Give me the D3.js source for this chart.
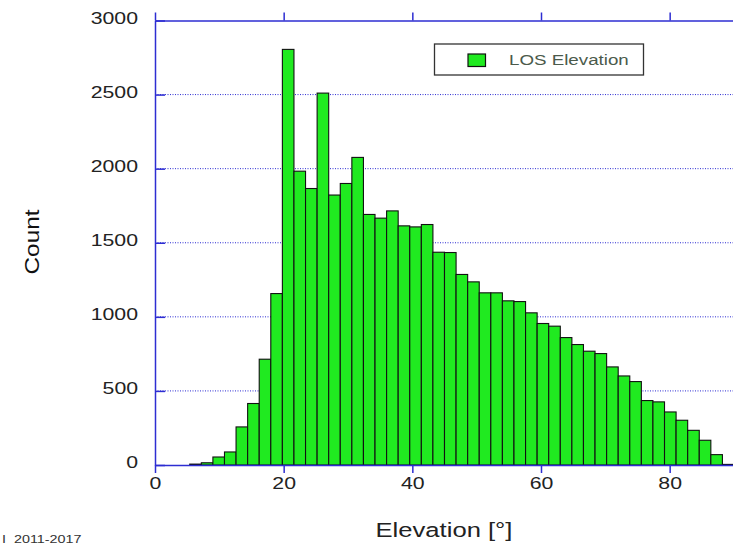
<!DOCTYPE html>
<html><head><meta charset="utf-8">
<script src="https://cdn.jsdelivr.net/npm/d3@7"></script>
<style>body{margin:0;background:#fff} svg{display:block}</style>
</head><body><svg id="c" width="733" height="546"></svg>
<script>
// ---- data ----
const binStart = [0,1.8,3.6,5.4,7.2,9,10.8,12.6,14.4,16.2,18,19.8,21.6,23.4,25.2,27,28.8,30.6,32.4,34.2,36,37.8,39.6,41.4,43.2,45,46.8,48.6,50.4,52.2,54,55.8,57.6,59.4,61.2,63,64.8,66.6,68.4,70.2,72,73.8,75.6,77.4,79.2,81,82.8,84.6,86.4,88.2];
const binWidth = 1.8;
const counts = [0,0,0,6,15,54,88,257,415,714,1157,2805,1983,1866,2510,1822,1900,2076,1691,1666,1715,1614,1607,1623,1436,1434,1286,1236,1162,1162,1108,1103,1027,955,937,860,813,768,752,662,601,563,435,426,358,302,234,167,70,4];
const xTicks = [0,20,40,60,80];
const yTicks = [0,500,1000,1500,2000,2500,3000];
const seriesName = "LOS Elevation";
const xTitle = "Elevation [°]";
const yTitle = "Count";
const footnote = "I  2011-2017";

// ---- chart ----
const svg = d3.select("#c");
const x = d3.scaleLinear().domain([0,90]).range([155,734]);
const y = d3.scaleLinear().domain([0,3000]).range([465,20.5]);
const axisColor = "#2d2dd2";
const font = "'Liberation Sans', Arial, Helvetica, sans-serif";
const SX = 1.25;
const barFill = "#20ea20";

// gridlines
svg.append("g").selectAll("line")
  .data(yTicks.filter(d => d > 0 && d < 3000)).join("line")
  .attr("x1", x.range()[0]).attr("x2", x.range()[1])
  .attr("y1", d => y(d)).attr("y2", d => y(d))
  .attr("stroke", axisColor).attr("stroke-width", 1)
  .attr("stroke-dasharray", "1,1.5");

// bars
svg.append("g").selectAll("rect")
  .data(binStart.map((b, i) => ({b, c: counts[i]})).filter(d => d.c > 0)).join("rect")
  .attr("x", d => x(d.b))
  .attr("width", d => x(d.b + binWidth) - x(d.b))
  .attr("y", d => y(d.c))
  .attr("height", d => y(0) - y(d.c))
  .attr("fill", barFill)
  .attr("stroke", "#111").attr("stroke-width", 1.1);

function styleAxis(g) {
  g.selectAll(".domain").attr("stroke", axisColor).attr("stroke-width", 1.5);
  g.selectAll(".tick line").attr("stroke", axisColor).attr("stroke-width", 1.5);
  g.selectAll("text").attr("font-family", font).attr("font-size", 17).attr("fill", "#222");
}

// bottom axis
const gb = svg.append("g").attr("transform", `translate(0,${y(0)})`)
  .call(d3.axisBottom(x).tickValues(xTicks).tickFormat(d3.format("d")).tickSize(8).tickSizeOuter(0).tickPadding(4));
styleAxis(gb);
gb.selectAll("text").attr("transform", `scale(${SX},1)`);

// top axis
const gt = svg.append("g").attr("transform", `translate(0,${y(3000)})`)
  .call(d3.axisTop(x).tickValues(xTicks).tickSize(8).tickSizeOuter(0).tickFormat(""));
styleAxis(gt);

// left axis
const gl = svg.append("g").attr("transform", `translate(${x(0)},0)`)
  .call(d3.axisLeft(y).tickValues(yTicks).tickFormat(d3.format("d")).tickSize(-10).tickSizeOuter(0));
styleAxis(gl);
gl.selectAll("text").attr("x", -17 / SX).attr("dy", "0.17em").attr("transform", `scale(${SX},1)`);

// right border
svg.append("line").attr("x1", x(90)).attr("x2", x(90)).attr("y1", y(0)).attr("y2", y(3000))
  .attr("stroke", axisColor).attr("stroke-width", 1.5);

// titles
svg.append("g").attr("transform", `translate(444,537) scale(${SX},1)`)
  .append("text").attr("text-anchor", "middle").attr("font-family", font)
  .attr("font-size", 20.5).attr("fill", "#222").text(xTitle);

svg.append("g").attr("transform", `translate(39,242) rotate(-90) scale(${SX},1)`)
  .append("text").attr("text-anchor", "middle").attr("font-family", font)
  .attr("font-size", 19.5).attr("fill", "#111").text(yTitle);

svg.append("g").attr("transform", `translate(2,543) scale(${SX},1)`)
  .append("text").attr("font-family", font).attr("font-size", 11.5).attr("fill", "#333")
  .attr("xml:space", "preserve").text(footnote);

// legend
const lg = svg.append("g");
lg.append("rect").attr("x", 434.5).attr("y", 44).attr("width", 209).attr("height", 31)
  .attr("fill", "#fff").attr("stroke", "#333").attr("stroke-width", 1.3);
lg.append("rect").attr("x", 468).attr("y", 54).attr("width", 17.5).attr("height", 12.5)
  .attr("fill", barFill).attr("stroke", "#111").attr("stroke-width", 1.2);
lg.append("g").attr("transform", `translate(509,64.5) scale(${SX},1)`)
  .append("text").attr("font-family", font).attr("font-size", 15).attr("fill", "#4b5a4b").text(seriesName);
</script>
</body></html>
